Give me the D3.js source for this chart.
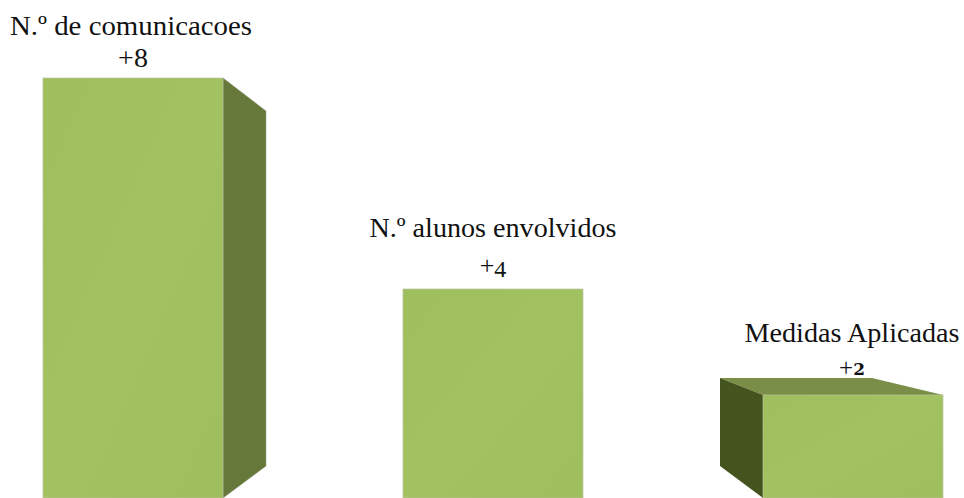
<!DOCTYPE html>
<html>
<head>
<meta charset="utf-8">
<script src="https://cdn.jsdelivr.net/npm/d3@7/dist/d3.min.js"></script>
<style>
html,body{margin:0;padding:0;background:#fff;overflow:hidden}
svg{display:block}
text{font-family:"Liberation Serif",serif;fill:#111}
</style>
</head>
<body>
<svg id="c" width="964" height="498"></svg>
<script>
const categories = ["N.º de comunicacoes", "N.º alunos envolvidos", "Medidas Aplicadas"];
const values = [8, 4, 2];
const valueSigns = ["+", "+", "+"];
const valueDigits = ["8", "4", "2"];

const svg = d3.select("#c");
const x = d3.scaleBand().domain(categories).range([43, 943]).paddingInner(0.5).paddingOuter(0);
const y = d3.scaleLinear().domain([0, 8]).range([498, 78]);

const defs = svg.append("defs");
const g = defs.append("linearGradient").attr("id", "front").attr("x1", 0).attr("y1", 0).attr("x2", 1).attr("y2", 1);
g.append("stop").attr("offset", "0%").attr("stop-color", "#9fbe5d");
g.append("stop").attr("offset", "50%").attr("stop-color", "#a2c161");
g.append("stop").attr("offset", "100%").attr("stop-color", "#9fbe5d");

const poly = pts => pts.map(p => p.join(",")).join(" ");
const DX = 43, DY = 32;
const perspectiveDrop = [0, 1, 2]; // the perspective view pushes shorter bars slightly lower
const barTop = i => y(values[i]) + perspectiveDrop[i];

categories.forEach((c, i) => {
  const l = x(c), r = l + x.bandwidth(), t = barTop(i), b = y(0);
  if (i === 0) {
    svg.append("polygon")
      .attr("points", poly([[r, t], [r + DX, t + DY + 1], [r + DX, b - DY], [r, b]]))
      .attr("fill", "#66793a").attr("stroke", "#8f9a78").attr("stroke-width", 0.5);
  }
  if (i === 2) {
    svg.append("polygon")
      .attr("points", poly([[l - DX, t - 17], [l + 109, t - 17], [r, t], [l, t]]))
      .attr("fill", "#7a8e47");
    svg.append("polygon")
      .attr("points", poly([[l - DX, t - 17], [l, t], [l, b], [l - DX, b - DY]]))
      .attr("fill", "#45531f");
  }
});

svg.selectAll("rect.bar").data(categories).join("rect")
  .attr("class", "bar")
  .attr("x", d => x(d))
  .attr("width", x.bandwidth())
  .attr("y", (d, i) => barTop(i))
  .attr("height", (d, i) => y(0) - barTop(i))
  .attr("fill", "url(#front)")
  .attr("stroke", "#b9c4a0").attr("stroke-width", 0.7);

// Text placement
const nameY = [35, 237, 342];
const nameShift = [-2, 0, -1];
const nameWidth = [242, 247, 215];
const valY = [67, 274, 376];
const valShift = [0, 0, -1];
const signSize = [28, 26, 25];
const digitSize = [28, 24, 17];
const digitDy = [0, 3, -1];
const digitFont = ["Liberation Serif", "Liberation Serif", "DejaVu Serif"];
const digitWeight = ["normal", "normal", "bold"];

categories.forEach((c, i) => {
  const cx = x(c) + x.bandwidth() / 2;
  svg.append("text").attr("x", cx + nameShift[i]).attr("y", nameY[i])
    .attr("text-anchor", "middle").attr("font-size", 28.2)
    .attr("textLength", nameWidth[i]).attr("lengthAdjust", "spacingAndGlyphs").text(c);
  const t = svg.append("text").attr("x", cx + valShift[i]).attr("y", valY[i])
    .attr("text-anchor", "middle");
  t.append("tspan").attr("font-size", signSize[i]).text(valueSigns[i]);
  t.append("tspan").attr("font-size", digitSize[i]).attr("dy", digitDy[i])
    .style("font-family", digitFont[i]).attr("font-weight", digitWeight[i]).text(valueDigits[i]);
});
</script>
</body>
</html>
